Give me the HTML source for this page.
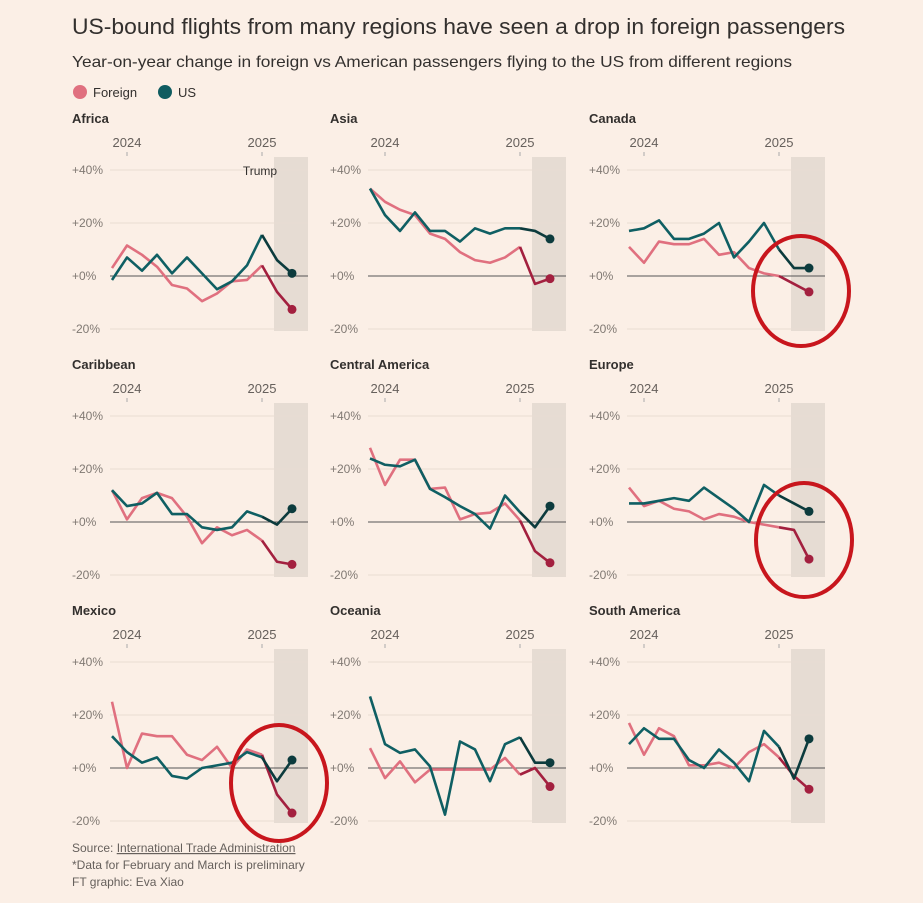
<!DOCTYPE html>
<html><head><meta charset="utf-8"><style>
body{margin:0;background:#fbefe6;width:923px;height:898px;overflow:hidden;font-family:"Liberation Sans",sans-serif}
svg text{font-family:"Liberation Sans",sans-serif}
</style></head><body>
<svg id="c" width="923" height="898">
<rect width="923" height="898" fill="#fbefe6"/>
<text x="72" y="34" font-size="22" fill="#33302e" textLength="773" lengthAdjust="spacingAndGlyphs">US-bound flights from many regions have seen a drop in foreign passengers</text>
<text x="72" y="67" font-size="16" fill="#33302e" textLength="720" lengthAdjust="spacingAndGlyphs">Year-on-year change in foreign vs American passengers flying to the US from different regions</text>
<g>
<circle cx="80" cy="92" r="7" fill="#e0707f"/>
<text x="93" y="97" font-size="13" fill="#33302e">Foreign</text>
<circle cx="165" cy="92" r="7" fill="#0f5c60"/>
<text x="178" y="97" font-size="13" fill="#33302e">US</text>
</g>
<g id="panels"></g>
<text x="72" y="852" font-size="12" fill="#66605c">Source: <tspan text-decoration="underline">International Trade Administration</tspan></text>
<text x="72" y="869" font-size="12" fill="#66605c">*Data for February and March is preliminary</text>
<text x="72" y="886" font-size="12" fill="#66605c">FT graphic: Eva Xiao</text>
</svg>
<script>
const regions=["Africa","Asia","Canada","Caribbean","Central America","Europe","Mexico","Oceania","South America"];
const foreignAfrica=[3,11.5,8,3.5,-3.4,-4.7,-9.5,-6.6,-2,-1.5,4,-6,-12.6];
const usAfrica=[-1.5,7,2,8,1,7,1,-5,-2,4,15.5,6,1];
const foreignAsia=[33,28,25,23,16,14,9,6,5,7,11,-3,-1];
const usAsia=[33,23,17,24,17,17,13,18,16,18,18,17,14];
const foreignCanada=[11,5,13,12,12,14,8,9,3,1,0,-3,-6];
const usCanada=[17,18,21,14,14,16,20,7,13,20,10,3,3];
const foreignCaribbean=[12,1,9,11,9,2,-8,-2,-5,-3,-7,-15,-16];
const usCaribbean=[12,6,7,11,3,3,-2,-3,-2,4,2,-1,5];
const foreignCentral=[28,14,23.5,23.5,12.5,13,1,3,3.5,7,0.6,-11,-15.4];
const usCentral=[24,21.6,21,23.5,12.5,9.4,6,3,-2.5,10,3.7,-2,6];
const foreignEurope=[13,6,8,5,4,1,3,2,0,-1,-2,-3,-14];
const usEurope=[7,7,8,9,8,13,9,5,0,14,10,7,4];
const foreignMexico=[25,0,13,12,12,5,3,8,0,7,5,-10,-17];
const usMexico=[12,6,2,4,-3,-4,0,1,2,6,4,-5,3];
const foreignOceania=[7.5,-3.8,2.5,-5.4,-0.6,-0.6,-0.6,-0.6,-0.6,3.8,-2.5,0,-7];
const usOceania=[27,9,5.7,7,0.6,-17.6,10,7,-5,9,11.6,2,2];
const foreignSouth=[17,5,15,12,1,1,2,0,6,9,4,-3,-8];
const usSouth=[9,15,11,11,3,0,7,2,-5,14,8,-4,11];
const yTicks=[40,20,0,-20];
const yTickLabels=["+40%","+20%","+0%","-20%"];
const yearLabels=["2024","2025"];
const yearIndex=[1,10];
const foreignSeries=[foreignAfrica,foreignAsia,foreignCanada,foreignCaribbean,foreignCentral,foreignEurope,foreignMexico,foreignOceania,foreignSouth];
const usSeries=[usAfrica,usAsia,usCanada,usCaribbean,usCentral,usEurope,usMexico,usOceania,usSouth];
const NS="http://www.w3.org/2000/svg";
const root=document.getElementById('panels');
function mk(t,a,p){const e=document.createElementNS(NS,t);for(const k in a)e.setAttribute(k,a[k]);(p||root).appendChild(e);return e;}
regions.forEach((name,i)=>{
  const ox=[0,258,517][i%3], oy=[0,246,492][Math.floor(i/3)];
  const g=mk('g',{});
  
  
  const n=foreignSeries[i].length;
  const x=j=>ox+112+j*15;
  const y=v=>oy+276-v*2.65;
  const sh=mk('rect',{x:ox+274,y:oy+157,width:34,height:174,fill:'#e6dcd3'},g);
  
  
  const t=mk('text',{x:ox+72,y:oy+123,'font-size':13,'font-weight':'bold',fill:'#33302e'},g);t.textContent=name;
  
  
  yearLabels.forEach((yl,k)=>{const xx=x(yearIndex[k]);
    const tt=mk('text',{x:xx,y:oy+147,'font-size':13,fill:'#66605c','text-anchor':'middle'},g);tt.textContent=yl;
    
    
    mk('line',{x1:xx,x2:xx,y1:oy+152,y2:oy+156,stroke:'#aaa'},g);});
  yTicks.forEach((v,k)=>{
    if(v!==0)mk('line',{x1:ox+110,x2:ox+308,y1:y(v),y2:y(v),stroke:'#e8ddd3'},g);
    const tl=mk('text',{x:ox+72,y:y(v)+4,'font-size':12,fill:'#807973'},g);tl.textContent=yTickLabels[k];
    
    
  });
  mk('line',{x1:ox+110,x2:ox+308,y1:y(0),y2:y(0),stroke:'#555'},g);
  if(i===0){const tr=mk('text',{x:ox+260,y:oy+175,'font-size':12,fill:'#33302e','text-anchor':'middle'},g);tr.textContent='Trump';
    
    }
  [[foreignSeries[i],'#e0707f','#a3203f','foreign-line'],[usSeries[i],'#0f5f63','#0c3b3d','us-line']].forEach(([d,c,dc,nm])=>{
    const pts=d.slice(0,n-2).map((v,j)=>x(j)+','+y(v)).join(' ');
    const l=mk('polyline',{points:pts,fill:'none',stroke:c,'stroke-width':2.6,'stroke-linejoin':'round'},g);
    
    
    const p2=d.slice(n-3).map((v,j)=>x(n-3+j)+','+y(v)).join(' ');
    mk('polyline',{points:p2,fill:'none',stroke:dc,'stroke-width':2.6,'stroke-linejoin':'round'},g);
    const dot=mk('circle',{cx:x(n-1),cy:y(d[n-1]),r:4.5,fill:dc},g);
    
    
  });
});
[[801,291,48,55],[804,540,48,57],[279,783,48,58]].forEach(c=>{
  const e=mk('ellipse',{cx:c[0],cy:c[1],rx:c[2],ry:c[3],fill:'none',stroke:'#c8161d','stroke-width':4});
  
  
});
</script>
</body></html>
